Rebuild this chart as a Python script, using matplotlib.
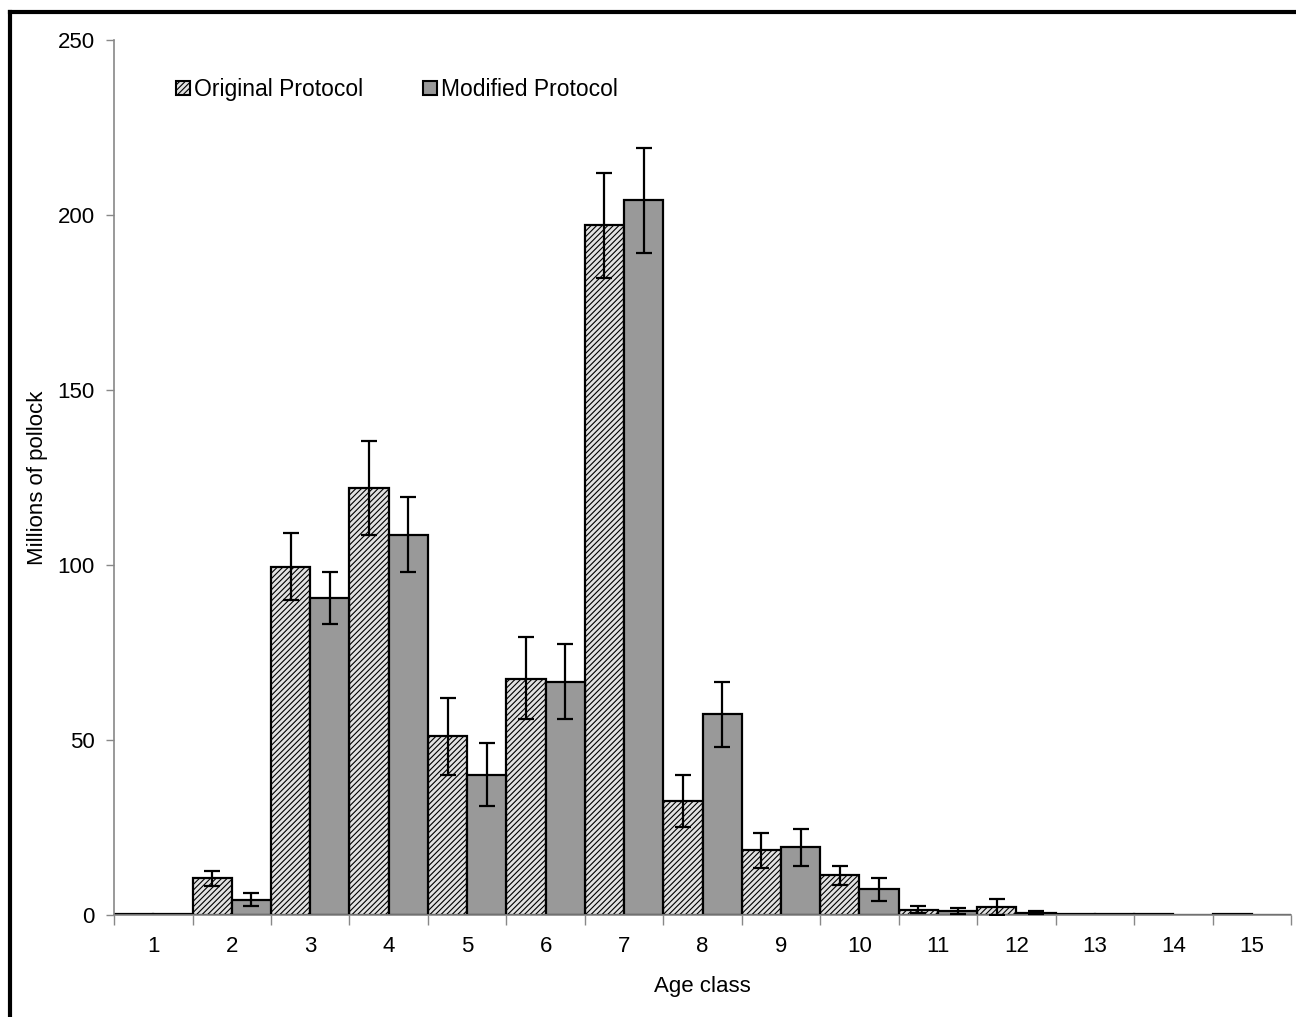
import matplotlib
matplotlib.use("Agg")
import matplotlib.pyplot as plt
import numpy as np
from matplotlib.lines import Line2D
from matplotlib.patches import Patch

plt.rcParams['font.family'] = ['Liberation Sans', 'DejaVu Sans']
plt.rcParams['hatch.color'] = '#7a7a7a'
plt.rcParams['hatch.linewidth'] = 0.8

age_classes = ['1', '2', '3', '4', '5', '6', '7', '8', '9', '10', '11', '12', '13', '14', '15']
original = [0.2, 10.6, 99.5, 122, 51, 67.5, 197, 32.5, 18.5, 11.5, 1.5, 2.2, 0.3, 0.4, 0.2]
original_lo = [0.2, 8.4, 90, 108.5, 40, 56, 182, 25, 13.5, 8.5, 0.5, 0.0, 0.3, 0.4, 0.2]
original_hi = [0.2, 12.6, 109, 135.5, 62, 79.5, 212, 40, 23.5, 14, 2.5, 4.5, 0.3, 0.4, 0.2]
modified = [0.2, 4.3, 90.5, 108.5, 40, 66.5, 204.3, 57.5, 19.5, 7.5, 1.0, 0.6, 0.2, 0.1, 0.1]
modified_lo = [0.2, 2.7, 83, 98, 31, 56, 189, 48, 14, 4, 0.2, 0.3, 0.2, 0.1, 0.1]
modified_hi = [0.2, 6.3, 98, 119.5, 49, 77.5, 219, 66.5, 24.5, 10.5, 2.0, 1.0, 0.2, 0.1, 0.1]

fig = plt.figure(figsize=(12.96, 10.17), dpi=100)
ax = fig.add_axes([0.088, 0.1003, 0.9082, 0.8604])

x = np.arange(len(age_classes))
w = 0.5
orig_c = '#e2e2e2'
mod_c = '#999999'

ax.bar(x - w/2, original, width=w, color=orig_c, edgecolor='black', linewidth=1.6,
       hatch='//////', zorder=2)
ax.bar(x + w/2, modified, width=w, color=mod_c, edgecolor='black', linewidth=1.6, zorder=2)

o = np.array(original); m = np.array(modified)
oerr = [o - np.array(original_lo), np.array(original_hi) - o]
merr = [m - np.array(modified_lo), np.array(modified_hi) - m]
mask_o = (np.array(original_hi) - np.array(original_lo)) > 0.05
mask_m = (np.array(modified_hi) - np.array(modified_lo)) > 0.05
ax.errorbar((x - w/2)[mask_o], o[mask_o], yerr=[oerr[0][mask_o], oerr[1][mask_o]], fmt='none',
            ecolor='black', elinewidth=1.6, capsize=6, capthick=1.6, zorder=3)
ax.errorbar((x + w/2)[mask_m], m[mask_m], yerr=[merr[0][mask_m], merr[1][mask_m]], fmt='none',
            ecolor='black', elinewidth=1.6, capsize=6, capthick=1.6, zorder=3)

ax.set_xlim(-0.5, len(age_classes) - 0.5)
ax.set_ylim(0, 250)
ax.set_yticks([0, 50, 100, 150, 200, 250])
ax.set_xticks(x)
ax.set_xticklabels(age_classes)
ax.set_xticks(np.arange(-0.5, len(age_classes), 1.0), minor=True)
ax.tick_params(axis='x', which='major', length=0, labelsize=16, pad=15)
ax.tick_params(axis='x', which='minor', length=7, width=1, color='#888888', direction='out')
ax.tick_params(axis='y', length=6, width=1, color='#888888', labelsize=16, pad=8)

for s in ['top', 'right']:
    ax.spines[s].set_visible(False)
for s in ['left', 'bottom']:
    ax.spines[s].set_color('#888888')
    ax.spines[s].set_linewidth(1.2)

ax.set_xlabel('Age class', fontsize=16, labelpad=14)
ax.set_ylabel('Millions of pollock', fontsize=16, labelpad=7)

handles = [Patch(facecolor=orig_c, edgecolor='black', hatch='//////', linewidth=1.5),
           Patch(facecolor=mod_c, edgecolor='black', linewidth=1.5)]
ax.legend(handles, ['Original Protocol', 'Modified Protocol'], ncol=2, frameon=False,
          loc='upper left', bbox_to_anchor=(0.035, 0.98), fontsize=16.5,
          handlelength=0.6, handleheight=0.6, handletextpad=0.2, columnspacing=2.6)

fig.add_artist(Line2D([0.008, 1.0], [1 - 12/1017, 1 - 12/1017], color='black', lw=3,
                      transform=fig.transFigure))
fig.add_artist(Line2D([10/1296, 10/1296], [0, 1 - 12/1017], color='black', lw=3,
                      transform=fig.transFigure))

fig.savefig('out.png', dpi=100, facecolor='white')
